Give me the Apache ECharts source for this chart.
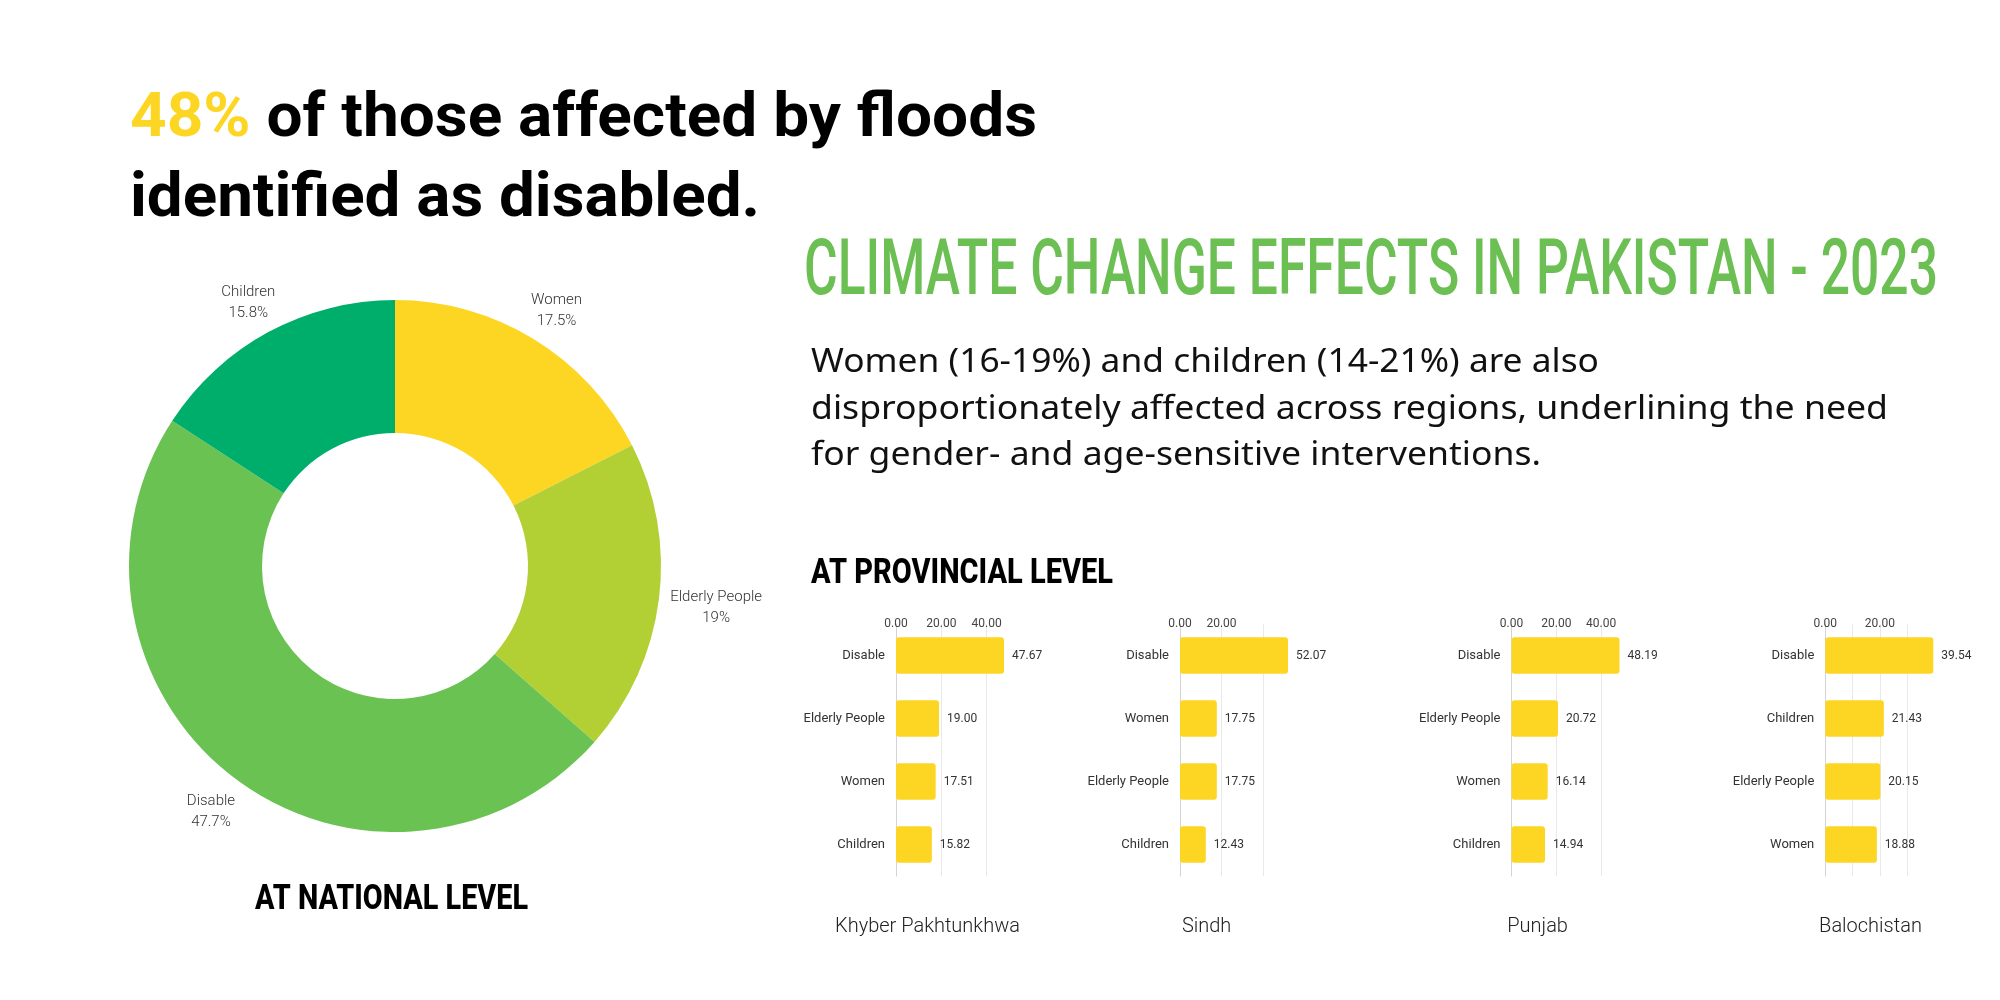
<!DOCTYPE html>
<html><head><meta charset="utf-8">
<script src="https://cdn.jsdelivr.net/npm/echarts@6/dist/echarts.min.js"></script>
<style>html,body{margin:0;padding:0;background:#fff}#c{width:2000px;height:1000px}</style>
</head><body><div id="c"></div>
<script>
// ---------- data ----------
const nationalNames  = ['Women', 'Elderly People', 'Disable', 'Children'];
const nationalValues = [17.5, 19, 47.7, 15.8];

const provinceNames = ['Khyber Pakhtunkhwa', 'Sindh', 'Punjab', 'Balochistan'];

const kpCategories = ['Disable', 'Elderly People', 'Women', 'Children'];
const kpValues     = [47.67, 19.00, 17.51, 15.82];
const kpTickLabels = [0, 20, 40];
const kpGridLines  = [0, 20, 40];

const sindhCategories = ['Disable', 'Women', 'Elderly People', 'Children'];
const sindhValues     = [52.07, 17.75, 17.75, 12.43];
const sindhTickLabels = [0, 20];
const sindhGridLines  = [0, 20, 40];

const punjabCategories = ['Disable', 'Elderly People', 'Women', 'Children'];
const punjabValues     = [48.19, 20.72, 16.14, 14.94];
const punjabTickLabels = [0, 20, 40];
const punjabGridLines  = [0, 20, 40];

const balCategories = ['Disable', 'Children', 'Elderly People', 'Women'];
const balValues     = [39.54, 21.43, 20.15, 18.88];
const balTickLabels = [0, 20];
const balGridLines  = [0, 10, 20, 30];

const headline1 = '48% of those affected by floods';
const headline2 = 'identified as disabled.';
const mainTitle = 'CLIMATE CHANGE EFFECTS IN PAKISTAN - 2023';
const paragraph = [
  'Women (16-19%) and children (14-21%) are also',
  'disproportionately affected across regions, underlining the need',
  'for gender- and age-sensitive interventions.'
];
const provincialHeading = 'AT PROVINCIAL LEVEL';
const nationalHeading = 'AT NATIONAL LEVEL';

// ---------- layout / style ----------
const YELLOW = '#FDD523';
const pieColors = ['#FDD523', '#B2D033', '#6AC252', '#00AE6C'];
const pieCenter = [395, 566];
const pieR = [133, 266];
const gridLefts = [896, 1180, 1511.5, 1825.3];
const gridWidth = 108;
const nameCenters = [927.5, 1206.6, 1537.6, 1870.5];
const LABEL_FONT = 'Roboto, "Noto Sans", sans-serif';

const provinces = [
  {cats: kpCategories, vals: kpValues, ticks: kpTickLabels, lines: kpGridLines},
  {cats: sindhCategories, vals: sindhValues, ticks: sindhTickLabels, lines: sindhGridLines},
  {cats: punjabCategories, vals: punjabValues, ticks: punjabTickLabels, lines: punjabGridLines},
  {cats: balCategories, vals: balValues, ticks: balTickLabels, lines: balGridLines}
];

const mctx = document.createElement('canvas').getContext('2d');
function fit(text, font, w) { mctx.font = font; return w / mctx.measureText(text).width; }

function txt(x, y, text, font, fill, targetW, align) {
  const el = {
    type: 'text', x: x, y: y, silent: true,
    style: {text: text, font: font, fill: fill,
      textAlign: align || 'left', textVerticalAlign: 'middle',
      align: align || 'left', verticalAlign: 'middle'}
  };
  if (targetW) el.scaleX = fit(text, font, targetW);
  return el;
}

const H1FONT = '700 61px Roboto, "Noto Sans", sans-serif';
const graphics = [];
const h1 = txt(130, 121, headline1, H1FONT, '#000', 907);
h1.style.text = '{y|48%}' + headline1.slice(3);
h1.style.rich = {y: {fill: YELLOW, font: H1FONT}};
graphics.push(h1);
graphics.push(txt(130, 201, headline2, H1FONT, '#000', 630));
graphics.push(txt(804, 275, mainTitle, '500 77px Roboto, sans-serif', '#6CBF52', 1134));
const PFONT = '400 32px "Noto Sans", sans-serif';
const paraY = [363, 410, 456];
const paraW = [788, 1077, 730];
paragraph.forEach((t, i) => graphics.push(txt(811, paraY[i], t, PFONT, '#111', paraW[i])));
const HFONT = '800 35px Roboto, sans-serif';
graphics.push(txt(811, 574, provincialHeading, HFONT, '#000', 302));
graphics.push(txt(255, 900, nationalHeading, HFONT, '#000', 273));
provinceNames.forEach((n, i) => graphics.push(txt(nameCenters[i], 927, n, '300 20px Roboto, sans-serif', '#222', null, 'center')));

const grids = [], xAxes = [], yAxes = [], series = [];
provinces.forEach((p, i) => {
  grids.push({left: gridLefts[i], width: gridWidth, top: 624, height: 252});
  xAxes.push({
    type: 'value', gridIndex: i, position: 'top', min: 0, max: 'dataMax',
    axisLine: {show: false},
    axisTick: {show: false, customValues: p.lines},
    axisLabel: {customValues: p.ticks, formatter: v => v.toFixed(2), margin: -6,
      fontSize: 12, color: '#444', fontFamily: LABEL_FONT},
    splitLine: {show: true, lineStyle: {color: '#e9e9e9', width: 1}}
  });
  yAxes.push({
    type: 'category', gridIndex: i, inverse: true, data: p.cats,
    axisLine: {show: true, lineStyle: {color: '#d4d4d4'}},
    axisTick: {show: false},
    axisLabel: {margin: 11, fontSize: 13, color: '#333', fontFamily: LABEL_FONT}
  });
  series.push({
    type: 'bar', xAxisIndex: i, yAxisIndex: i, data: p.vals, barCategoryGap: '42%',
    itemStyle: {color: YELLOW, borderRadius: 3}, silent: true,
    label: {show: true, position: 'right', distance: 8, formatter: q => q.value.toFixed(2),
      fontSize: 12, color: '#333', fontFamily: LABEL_FONT}
  });
});

const pieData = nationalNames.map((n, i) => ({name: n, value: nationalValues[i], itemStyle: {color: pieColors[i]}}));
series.push({
  type: 'pie', center: pieCenter, radius: pieR, startAngle: 90, clockwise: true,
  label: {show: false}, labelLine: {show: false}, silent: true, data: pieData
});
// label ring (transparent) for centred outside labels
series.push({
  type: 'pie', center: pieCenter, radius: [291, 311], startAngle: 90, clockwise: true, silent: true,
  itemStyle: {color: 'rgba(0,0,0,0)'},
  label: {show: true, position: 'inside', formatter: '{b}\n{c}%', fontSize: 15, lineHeight: 21,
    color: '#333', fontFamily: LABEL_FONT, fontWeight: 300},
  labelLine: {show: false},
  labelLayout: function (params) {
    // keep each label clear of the ring by shifting it sideways if needed
    const r = params.labelRect;
    const cx = r.x + r.width / 2, cy = r.y + r.height / 2 + 4;
    const nearY = Math.max(cy - r.height / 2, Math.min(pieCenter[1], cy + r.height / 2));
    const dy = Math.abs(nearY - pieCenter[1]);
    let shift = 0;
    if (dy < pieR[1]) {
      const half = Math.sqrt(pieR[1] * pieR[1] - dy * dy);
      const gap = 10;
      if (cx >= pieCenter[0]) {
        const edge = pieCenter[0] + half + gap;
        if (r.x < edge) shift = edge - r.x;
      } else {
        const edge = pieCenter[0] - half - gap;
        if (r.x + r.width > edge) shift = edge - (r.x + r.width);
      }
    }
    return {x: cx + shift, y: cy, align: 'center', verticalAlign: 'middle'};
  },
  data: nationalNames.map((n, i) => ({name: n, value: nationalValues[i]}))
});

const chart = echarts.init(document.getElementById('c'), null, {renderer: 'canvas'});
chart.setOption({
  backgroundColor: '#fff',
  animation: false,
  grid: grids, xAxis: xAxes, yAxis: yAxes, series: series,
  graphic: {elements: graphics}
});
</script></body></html>
